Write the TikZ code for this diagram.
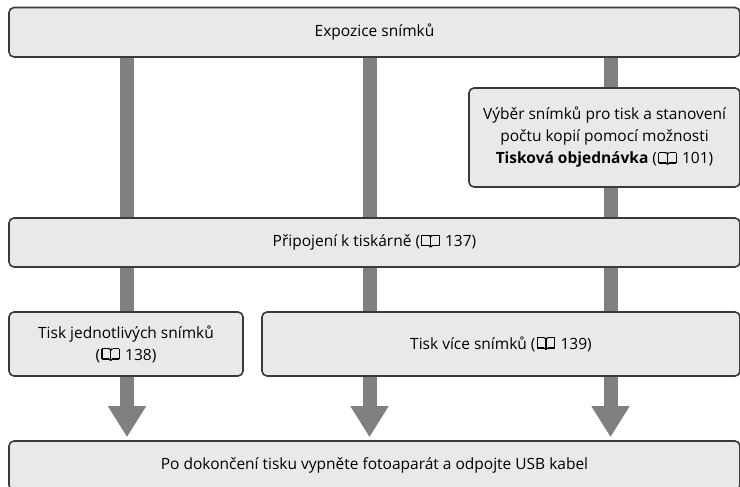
\documentclass[tikz,border=0pt]{standalone}
\usepackage{fontspec}
\setmainfont{Open Sans}
\usepackage{pict2e}
\usetikzlibrary{arrows.meta,backgrounds}
\definecolor{boxfill}{HTML}{E9E9E9}
\definecolor{boxline}{HTML}{3A3A3A}
\definecolor{barcol}{HTML}{808080}
\newcommand{\bookic}{\hspace{1pt}\raisebox{-1pt}{\setlength{\unitlength}{1pt}\linethickness{1.2pt}%
\begin{picture}(19,13)
\Line(0.8,2)(0.8,12.2)
\Line(18.2,2)(18.2,12.2)
\Line(0.8,12.2)(7.5,12.2)\qbezier(7.5,12.2)(9.5,12.2)(9.5,10.4)
\Line(18.2,12.2)(11.5,12.2)\qbezier(11.5,12.2)(9.5,12.2)(9.5,10.4)
\Line(0.8,2)(7.8,2)\qbezier(7.8,2)(9.5,2)(9.5,0.6)
\Line(18.2,2)(11.2,2)\qbezier(11.2,2)(9.5,2)(9.5,0.6)
\Line(9.5,0.6)(9.5,10.4)
\end{picture}}\hspace{1pt}}
\newcommand{\boxfont}{\fontsize{15.5}{22}\selectfont\lineskiplimit=-30pt\relax\lineskip=0pt\relax}
\tikzset{
  box/.style={draw=boxline, fill=boxfill, line width=1.6pt, rounded corners=5pt,
    inner sep=0pt, align=center, text=black, font=\boxfont},
  bar/.style={draw=barcol, line width=14pt, -{Triangle[width=36pt,length=31pt]}}
}
\begin{document}
\begin{tikzpicture}[x=1pt,y=-1pt]
\useasboundingbox (0,0) rectangle (740,487);
\node[box, minimum width=731pt, minimum height=49.5pt] (A) at (374.5,32.25) {Expozice snímků};
\node[box, minimum width=271pt, minimum height=99pt] (B) at (604.5,137.5)
  {Výběr snímků pro tisk a stanovení\\počtu kopií pomocí možnosti\\\textbf{Tisková objednávka} (\bookic{} 101)};
\node[box, minimum width=731pt, minimum height=49pt] (C) at (374.5,242.5) {Připojení k tiskárně (\bookic{} 137)};
\node[box, minimum width=234pt, minimum height=64pt] (D) at (126,344) {Tisk jednotlivých snímků\\(\bookic{} 138)};
\node[box, minimum width=478pt, minimum height=64pt] (E) at (501,344) {Tisk více snímků (\bookic{} 139)};
\node[box, minimum width=731pt, minimum height=49pt] (F) at (374.5,465.5) {Po dokončení tisku vypněte fotoaparát a odpojte USB kabel};
\coordinate (b1) at (127,0);
\coordinate (b2) at (369.5,0);
\coordinate (b3) at (610.5,0);
\begin{scope}[on background layer]
\draw[bar] (A.south -| b1) -- ([yshift=3pt]F.north -| b1);
\draw[bar] (A.south -| b2) -- ([yshift=3pt]F.north -| b2);
\draw[bar] (A.south -| b3) -- ([yshift=3pt]F.north -| b3);
\end{scope}
\end{tikzpicture}
\end{document}
